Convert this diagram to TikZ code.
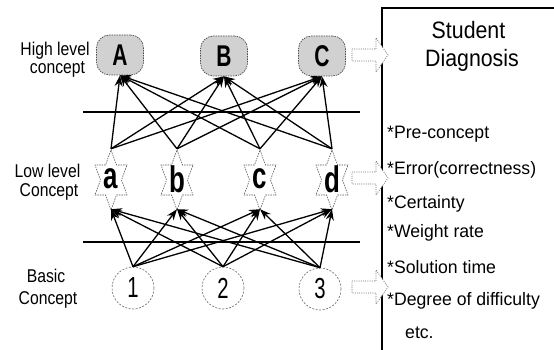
\documentclass[tikz,border=0pt]{standalone}
\usepackage{fontspec}
\setmainfont{Liberation Sans}
\newfontfamily\lblfont[FakeStretch=0.85]{Liberation Sans}
\newfontfamily\titlefont[FakeStretch=0.9]{Liberation Sans}
\newfontfamily\listfont[FakeStretch=0.98]{Liberation Sans}
\newfontfamily\nodefont[FakeStretch=0.7]{Liberation Sans}
\usetikzlibrary{arrows.meta,calc}
\tikzset{
  hibox/.style={draw=black!70, dash pattern=on 1.5pt off 1pt, line width=0.7pt, fill=black!18,
    rounded corners=13pt, minimum width=47pt, minimum height=40pt, inner sep=0pt,
    font=\nodefont\bfseries\fontsize{30}{30}\selectfont},
  lostar/.style={minimum width=30pt, minimum height=60pt, inner sep=0pt,
    font=\nodefont\bfseries\fontsize{37}{37}\selectfont},
  starline/.style={draw=black!65, fill=white, line width=0.6pt, dash pattern=on 1.5pt off 1pt},
  basecirc/.style={circle, draw=black!60, fill=white, line width=0.6pt, dash pattern=on 2pt off 1.5pt,
    minimum size=42pt, inner sep=0pt, font=\nodefont\fontsize{29}{29}\selectfont},
  edge/.style={line width=1.3pt, -{Stealth[length=11pt,width=8pt]}},
  sepline/.style={line width=1.1pt},
  lbl/.style={anchor=base, inner sep=0pt, font=\lblfont\fontsize{18.5}{18.5}\selectfont},
  ttl/.style={anchor=base, inner sep=0pt, font=\titlefont\fontsize{23.7}{23.7}\selectfont},
  itm/.style={anchor=base west, inner sep=0pt, font=\listfont\fontsize{18}{18}\selectfont},
  blockarrow/.style={draw=black!55, fill=white, line width=0.7pt, dash pattern=on 1pt off 1.2pt},
  boxline/.style={line width=1.2pt}
}
\begin{document}
\begin{tikzpicture}[x=1pt,y=-1pt]
\useasboundingbox (0,0) rectangle (554,350);

% result box
\coordinate (bx1) at (554,8);
\coordinate (bx2) at (382,8);
\coordinate (bx3) at (382,350);
\draw[boxline] (bx1) -- (bx2) -- (bx3);

% separator lines
\coordinate (s1a) at (83,112);
\coordinate (s1b) at (360,112);
\coordinate (s2a) at (83,242);
\coordinate (s2b) at (360,242);
\draw[sepline] (s1a) -- (s1b);
\draw[sepline] (s2a) -- (s2b);

% high level
\node[hibox] (A) at (120,55) {A};
\node[hibox] (B) at (224,56) {B};
\node[hibox] (C) at (322,56) {C};

% low level stars
\foreach \x in {111,177,260,332}{
  \draw[starline] (\x,150) -- (\x+5.5,165) -- (\x+16,165) -- (\x+10.5,180) -- (\x+16,195) -- (\x+5.5,195)
    -- (\x,210) -- (\x-5.5,195) -- (\x-16,195) -- (\x-10.5,180) -- (\x-16,165) -- (\x-5.5,165) -- cycle;
}
\node[lostar] (a) at (111,179) {a};
\node[lostar] (b) at (177,179) {b};
\node[lostar] (c) at (260,179) {c};
\node[lostar] (d) at (332,179) {d};

% basic
\node[basecirc] (n1) at (133,288) {1};
\node[basecirc] (n2) at (223,288) {2};
\node[basecirc] (n3) at (320,289) {3};

% edges
\foreach \s in {a,b,c,d}{
  \foreach \t in {A,B,C}{
    \draw[edge] (\s.north) -- (\t.south);
  }
}
\foreach \s in {n1,n2,n3}{
  \foreach \t in {a,b,c,d}{
    \draw[edge] (\s.north) -- (\t.south);
  }
}

% block arrows
\foreach \y in {55,178,287}{
  \draw[blockarrow] (352,\y-6) -- (376,\y-6) -- (376,\y-17) -- (388,\y) -- (376,\y+17)
    -- (376,\y+6) -- (352,\y+6) -- cycle;
}

% left labels
\node[lbl] (hl1) at (55,56) {High level};
\node[lbl] (hl2) at (57.5,74) {concept};
\node[lbl] (ll1) at (47.5,177) {Low level};
\node[lbl] (ll2) at (49,196) {Concept};
\node[lbl] (bl1) at (46,282) {Basic};
\node[lbl] (bl2) at (48,304) {Concept};

% title
\node[ttl] (t1) at (468.5,39) {Student};
\node[ttl] (t2) at (472,67) {Diagnosis};

% items
\node[itm] (i1) at (387,139) {*Pre-concept};
\node[itm] (i2) at (387,174) {*Error(correctness)};
\node[itm] (i3) at (387,208) {*Certainty};
\node[itm] (i4) at (387,237) {*Weight rate};
\node[itm] (i5) at (387,273) {*Solution time};
\node[itm] (i6) at (387,305) {*Degree of difficulty};
\node[itm] (i7) at (405,338) {etc.};
\end{tikzpicture}
\end{document}
